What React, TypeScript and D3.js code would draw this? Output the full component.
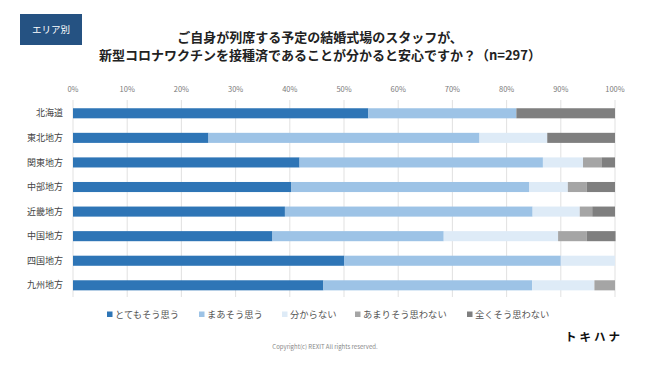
import { useEffect, useRef } from "react";
import * as d3 from "d3";

const regions = ["北海道", "東北地方", "関東地方", "中部地方", "近畿地方", "中国地方", "四国地方", "九州地方"];
const answers = ["とてもそう思う", "まあそう思う", "分からない", "あまりそう思わない", "全くそう思わない"];
const colors = ["#2e75b6", "#9dc3e6", "#deebf7", "#a5a5a5", "#7f7f7f"];

const veryMuch = [54.5, 25.0, 41.8, 40.3, 39.1, 36.8, 50.0, 46.2];
const somewhat = [27.3, 50.0, 44.9, 43.9, 45.7, 31.6, 40.0, 38.5];
const unsure = [0, 12.5, 7.4, 7.1, 8.7, 21.1, 10.0, 11.5];
const notReally = [0, 0, 3.4, 3.5, 2.3, 5.3, 0, 3.8];
const notAtAll = [18.2, 12.5, 2.5, 5.2, 4.2, 5.3, 0, 0];

const ticks = [0, 10, 20, 30, 40, 50, 60, 70, 80, 90, 100];

const FONT = "'Noto Sans CJK JP', 'Noto Sans', sans-serif";

export default function App() {
  const svgRef = useRef(null);

  useEffect(() => {
    if (!svgRef.current) return;
    const width = 650;
    const height = 366;
    const svg = d3.select(svgRef.current);
    svg.selectAll("*").remove();

    svg.append("rect").attr("width", width).attr("height", height).attr("fill", "white");

    // label box
    svg.append("rect").attr("x", 20).attr("y", 14).attr("width", 62).attr("height", 31).attr("fill", "#255282");
    svg
      .append("text")
      .attr("x", 51)
      .attr("y", 33)
      .attr("text-anchor", "middle")
      .attr("fill", "white")
      .attr("font-size", "9.5px")
      .text("エリア別");

    svg
      .append("text")
      .attr("x", 320)
      .attr("y", 42)
      .attr("text-anchor", "middle")
      .attr("font-size", "13px")
      .attr("font-weight", "bold")
      .attr("fill", "#222")
      .text("ご自身が列席する予定の結婚式場のスタッフが、");
    svg
      .append("text")
      .attr("x", 320)
      .attr("y", 60)
      .attr("text-anchor", "middle")
      .attr("font-size", "13px")
      .attr("font-weight", "bold")
      .attr("fill", "#222")
      .text("新型コロナワクチンを接種済であることが分かると安心ですか？（n=297）");

    const x = d3.scaleLinear().domain([0, 100]).range([73, 615]);
    const y = d3
      .scaleBand()
      .domain(regions)
      .range([101, 297.6])
      .paddingInner(0.59)
      .paddingOuter(0.295);

    ticks.forEach((t) => {
      svg
        .append("line")
        .attr("x1", x(t))
        .attr("x2", x(t))
        .attr("y1", 100)
        .attr("y2", 297)
        .attr("stroke", "#d9d9d9")
        .attr("stroke-width", 0.8);
      svg
        .append("text")
        .attr("x", x(t))
        .attr("y", 92)
        .attr("text-anchor", "middle")
        .attr("font-size", "7.5px")
        .attr("fill", "#7a7a7a")
        .text(`${t}%`);
    });

    const series = [veryMuch, somewhat, unsure, notReally, notAtAll];

    regions.forEach((r, i) => {
      const yPos = y(r)!;
      let acc = 0;
      series.forEach((s, k) => {
        const v = s[i];
        if (v > 0) {
          svg
            .append("rect")
            .attr("x", x(acc))
            .attr("y", yPos)
            .attr("width", x(acc + v) - x(acc))
            .attr("height", y.bandwidth())
            .attr("fill", colors[k]);
        }
        acc += v;
      });
      svg
        .append("text")
        .attr("x", 63)
        .attr("y", yPos + y.bandwidth() / 2)
        .attr("dy", "0.35em")
        .attr("text-anchor", "end")
        .attr("font-size", "9px")
        .attr("fill", "#444")
        .text(r);
    });

    // legend
    const legendX = [107, 199, 282, 355, 467];
    answers.forEach((a, k) => {
      svg
        .append("rect")
        .attr("x", legendX[k])
        .attr("y", 311.5)
        .attr("width", 5.5)
        .attr("height", 5.5)
        .attr("fill", colors[k]);
      svg
        .append("text")
        .attr("x", legendX[k] + 8)
        .attr("y", 318)
        .attr("font-size", "9.3px")
        .attr("fill", "#555")
        .text(a);
    });

    svg
      .append("text")
      .attr("x", 623)
      .attr("y", 341)
      .attr("text-anchor", "end")
      .attr("font-size", "11.5px")
      .attr("font-weight", "bold")
      .attr("letter-spacing", "3px")
      .attr("fill", "#111")
      .text("トキハナ");

    svg
      .append("text")
      .attr("x", 325)
      .attr("y", 349)
      .attr("text-anchor", "middle")
      .attr("font-size", "6px")
      .attr("fill", "#888")
      .text("Copyright(c) REXIT All rights reserved.");
  }, []);

  return (
    <svg
      ref={svgRef}
      width={650}
      height={366}
      style={{ position: "absolute", left: 0, top: 0, fontFamily: FONT }}
    />
  );
}
